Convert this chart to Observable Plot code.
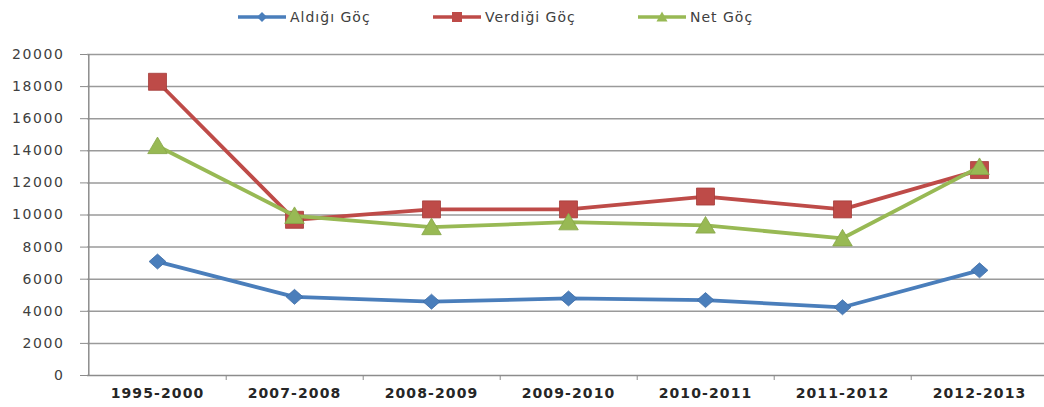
<!DOCTYPE html>
<html><head><meta charset="utf-8">
<script src="https://cdn.jsdelivr.net/npm/d3@7"></script>
<script src="https://cdn.jsdelivr.net/npm/@observablehq/plot@0.6"></script>
<style>
body{margin:0;background:#fff;overflow:hidden}
#wrap{position:relative;width:1044px;height:407px;overflow:hidden;font-family:"DejaVu Sans",sans-serif;background:#fff}
#legend{position:relative;height:34px}
.item{position:absolute;top:0;height:34px;display:flex;align-items:center;font-size:14px;color:#404040;letter-spacing:1px;white-space:nowrap}
.item svg{margin-right:4px}
#chart svg{display:block}
</style></head><body><div id="wrap"><div id="legend"></div><div id="chart"></div></div>
<script>
const periods = ["1995-2000","2007-2008","2008-2009","2009-2010","2010-2011","2011-2012","2012-2013"];
const aldigi = [7100,4900,4600,4800,4700,4250,6550];
const verdigi = [18300,9700,10350,10350,11150,10350,12800];
const net = [14300,9950,9250,9550,9350,8550,13000];
const seriesNames = ["Aldığı Göç","Verdiği Göç","Net Göç"];
const seriesColors = ["#4A7EBB","#BE4B48","#98B954"];
const markerStrokes = ["#3D6CA6","#A43C3A","#86A648"];
const yTicks = d3.range(0, 20001, 2000);

// custom marker symbols (scaled by r)
const diamondSym = {draw(ctx, size){ const r=Math.sqrt(size/Math.PI); ctx.moveTo(0,-r); ctx.lineTo(1.12*r,0); ctx.lineTo(0,r); ctx.lineTo(-1.12*r,0); ctx.closePath(); }};
const squareSym = {draw(ctx, size){ const r=Math.sqrt(size/Math.PI); ctx.moveTo(-1.06*r,-r); ctx.lineTo(1.06*r,-r); ctx.lineTo(1.06*r,r); ctx.lineTo(-1.06*r,r); ctx.closePath(); }};
const triSym = {draw(ctx, size){ const r=Math.sqrt(size/Math.PI); ctx.moveTo(0,-1.05*r); ctx.lineTo(1.15*r,0.9*r); ctx.lineTo(-1.15*r,0.9*r); ctx.closePath(); }};
const symbols = [diamondSym, squareSym, triSym];
const symbolR = [7.5, 8.5, 8.5];

const seriesValues = [aldigi, verdigi, net];
const rows = seriesNames.map((name, s) => periods.map((p, i) => ({period: p, series: name, value: seriesValues[s][i]})));

const W = 1044, ML = 87, MR = -5;
const step = (W - MR - ML) / periods.length;

const marks = [
  Plot.ruleY(yTicks.slice(1), {stroke: "#9a9a9a", strokeWidth: 1.5}),
  Plot.ruleY([0], {stroke: "#8c8c8c", strokeWidth: 1.5}),
  Plot.ruleX([periods[0]], {dx: -step / 2, y1: 0, y2: 20000, stroke: "#8c8c8c", strokeWidth: 1.5}),
  Plot.axisY({ticks: yTicks, tickSize: 7, tickPadding: 16, tickFormat: d3.format("d"), stroke: "#8c8c8c", color: "#404040", fontSize: 14, label: null}),
  Plot.axisX({tickSize: 5, dx: step / 2, tickFormat: () => "", stroke: "#8c8c8c", label: null}),
  Plot.axisX({tickSize: 0, tickPadding: 13, fontSize: 14, fontWeight: "bold", color: "#262626", label: null})
];
rows.forEach((data, s) => {
  marks.push(Plot.line(data, {x: "period", y: "value", stroke: seriesColors[s], strokeWidth: 3.8, strokeLinejoin: "round"}));
  marks.push(Plot.dot(data, {x: "period", y: "value", symbol: symbols[s], r: symbolR[s], fill: seriesColors[s], stroke: markerStrokes[s], strokeWidth: 0.8}));
});

const chart = Plot.plot({
  width: W, height: 373,
  marginTop: 20, marginBottom: 32, marginLeft: ML, marginRight: MR,
  style: {fontFamily: "DejaVu Sans, sans-serif", overflow: "hidden", background: "white"},
  x: {type: "point", domain: periods, padding: 0.5, axis: null},
  y: {domain: [0, 20000], axis: null},
  marks
});
document.getElementById("chart").appendChild(chart);
d3.select(chart).selectAll("g[aria-label='x-axis tick label'] text").style("letter-spacing", "1.1px");
d3.select(chart).selectAll("g[aria-label='y-axis tick label'] text").style("letter-spacing", "1.6px");

// legend
const legendX = [238, 433, 638];
const legend = document.getElementById("legend");
const iconPaths = [
  "M24,12 L29,17 L24,22 L19,17 Z",
  "M19,12 L29,12 L29,22 L19,22 Z",
  "M24,11.5 L29.5,21.5 L18.5,21.5 Z"
];
seriesNames.forEach((name, s) => {
  const div = document.createElement("div");
  div.className = "item";
  div.style.left = legendX[s] + "px";
  div.innerHTML = `<svg width="48" height="34"><line x1="0" x2="48" y1="17" y2="17" stroke="${seriesColors[s]}" stroke-width="3.6"/><path d="${iconPaths[s]}" fill="${seriesColors[s]}"/></svg><span>${name}</span>`;
  legend.appendChild(div);
});
</script></body></html>
